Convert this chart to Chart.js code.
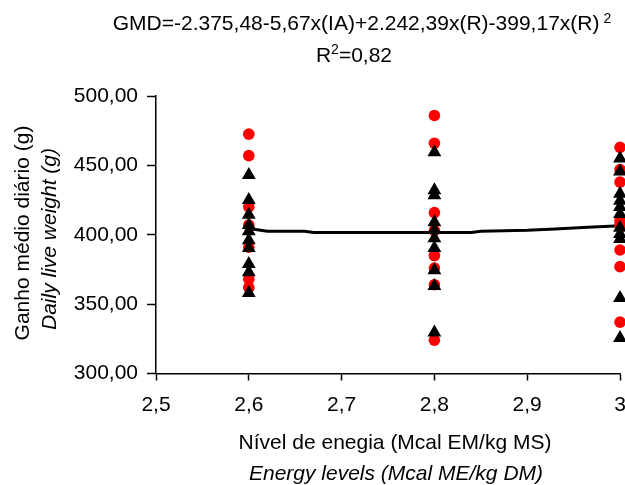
<!DOCTYPE html>
<html>
<head>
<meta charset="utf-8">
<script src="https://cdn.jsdelivr.net/npm/chart.js@4"></script>
<style>
  html, body { margin: 0; padding: 0; background: #fff; }
</style>
</head>
<body>
<canvas id="chart" width="625" height="485" style="display:block"></canvas>
<script>
// energy levels (Mcal EM/kg MS)
const levels = [2.6, 2.8, 3.0];
// observed daily gain (red circles), one list per level
const observedGain = [
    [472.5, 457, 420, 407, 391, 368, 362],
    [486, 466, 416, 403, 385, 376, 364, 324],
    [463, 447, 438, 410, 407, 389, 377, 337]
];
// estimated daily gain (black triangles)
const estimatedGain = [
    [443, 425, 414.5, 407, 402.5, 396, 390.5, 379, 373, 358],
    [459.5, 432, 428.5, 409, 403.5, 397.5, 390.5, 374.5, 363, 329.5],
    [455, 445.5, 429.5, 424.5, 420, 415, 405, 400.5, 397, 354.5, 325.5]
];
// fitted curve
const curveX = [2.6, 2.62, 2.66, 2.67, 2.84, 2.85, 2.9, 2.93, 2.96, 3.0];
const curveY = [404.5, 402.5, 402.5, 401.7, 401.7, 402.6, 403.3, 404.2, 405.3, 406.5];

const xTickLabels = ['2,5', '2,6', '2,7', '2,8', '2,9', '3'];
const yTickLabels = ['300,00', '350,00', '400,00', '450,00', '500,00'];

const titleMain = 'GMD=-2.375,48-5,67x(IA)+2.242,39x(R)-399,17x(R)';
const yTitle = ['Ganho médio diário (g)', 'Daily live weight (g)'];
const xTitle = ['Nível de enegia (Mcal EM/kg MS)', 'Energy levels (Mcal ME/kg DM)'];

function toPoints(groups) {
    let pts = [];
    groups.forEach((vals, i) => {
        vals.forEach(v => pts.push({x: levels[i], y: v}));
    });
    return pts;
}

const FONT = '"Liberation Sans", Arial, sans-serif';

const textPlugin = {
    id: 'texts',
    afterDraw(chart) {
        const ctx = chart.ctx;
        ctx.save();
        ctx.fillStyle = '#000';
        ctx.textBaseline = 'alphabetic';
        ctx.textAlign = 'left';

        // title line 1 with superscript
        ctx.font = '21px ' + FONT;
        let w1 = ctx.measureText(titleMain).width;
        ctx.font = '14px ' + FONT;
        let ws = ctx.measureText('2').width;
        let x0 = 362 - (w1 + 4 + ws) / 2;
        ctx.font = '21px ' + FONT;
        ctx.fillText(titleMain, x0, 30);
        ctx.font = '14px ' + FONT;
        ctx.fillText('2', x0 + w1 + 4, 23);

        // title line 2: R²=0,82
        ctx.font = '21px ' + FONT;
        let wr = ctx.measureText('R').width;
        let wrest = ctx.measureText('=0,82').width;
        let x1 = 354 - (wr + ws + wrest) / 2;
        ctx.fillText('R', x1, 62);
        ctx.font = '14px ' + FONT;
        ctx.fillText('2', x1 + wr, 54);
        ctx.font = '21px ' + FONT;
        ctx.fillText('=0,82', x1 + wr + ws, 62);

        // x axis title
        ctx.textAlign = 'center';
        ctx.font = '21px ' + FONT;
        ctx.fillText(xTitle[0], 395, 449);
        ctx.font = 'italic 21px ' + FONT;
        ctx.fillText(xTitle[1], 396, 480);

        // y axis title
        ctx.translate(0, 235);
        ctx.rotate(-Math.PI / 2);
        ctx.font = '21px ' + FONT;
        ctx.fillText(yTitle[0], 2, 29);
        ctx.font = 'italic 21px ' + FONT;
        ctx.fillText(yTitle[1], -4, 56);
        ctx.restore();
    }
};

new Chart(document.getElementById('chart'), {
    type: 'scatter',
    data: {
        datasets: [
            {
                label: 'Estimado',
                data: toPoints(estimatedGain),
                pointStyle: 'triangle',
                pointRadius: 8,
                backgroundColor: '#000',
                borderColor: '#000',
                borderWidth: 0,
                clip: false
            },
            {
                label: 'Observado',
                data: toPoints(observedGain),
                pointStyle: 'circle',
                pointRadius: 5.8,
                backgroundColor: '#ff0000',
                borderColor: '#ff0000',
                borderWidth: 0,
                clip: false
            },
            {
                label: 'Curva',
                type: 'line',
                data: curveX.map((x, i) => ({x: x, y: curveY[i]})),
                borderColor: '#000',
                borderWidth: 3,
                pointRadius: 0,
                fill: false,
                tension: 0,
                clip: false
            }
        ]
    },
    options: {
        responsive: false,
        animation: false,
        layout: { autoPadding: false, padding: { top: 96, right: 5, left: 0, bottom: 0 } },
        plugins: {
            legend: { display: false },
            tooltip: { enabled: false },
            title: { display: false }
        },
        scales: {
            x: {
                type: 'linear',
                min: 2.5,
                max: 3.0,
                ticks: {
                    stepSize: 0.1,
                    padding: 12,
                    color: '#000',
                    font: { family: FONT, size: 21 },
                    maxRotation: 0,
                    callback: (v, i) => xTickLabels[i]
                },
                grid: { drawOnChartArea: false, color: '#000', tickLength: 7, tickWidth: 1.5 },
                border: { color: '#000', width: 1.5 },
                afterFit: s => { s.height = 111.5; s.paddingLeft = 0; s.paddingRight = 0; }
            },
            y: {
                min: 300,
                max: 500,
                ticks: {
                    stepSize: 50,
                    padding: 9,
                    color: '#000',
                    font: { family: FONT, size: 21 },
                    callback: (v, i) => yTickLabels[i]
                },
                grid: { drawOnChartArea: false, color: '#000', tickLength: 9, tickWidth: 1.5 },
                border: { color: '#000', width: 1.5 },
                afterFit: s => { s.width = 156; s.paddingTop = 0; s.paddingBottom = 0; }
            }
        }
    },
    plugins: [textPlugin]
});
</script>
</body>
</html>
